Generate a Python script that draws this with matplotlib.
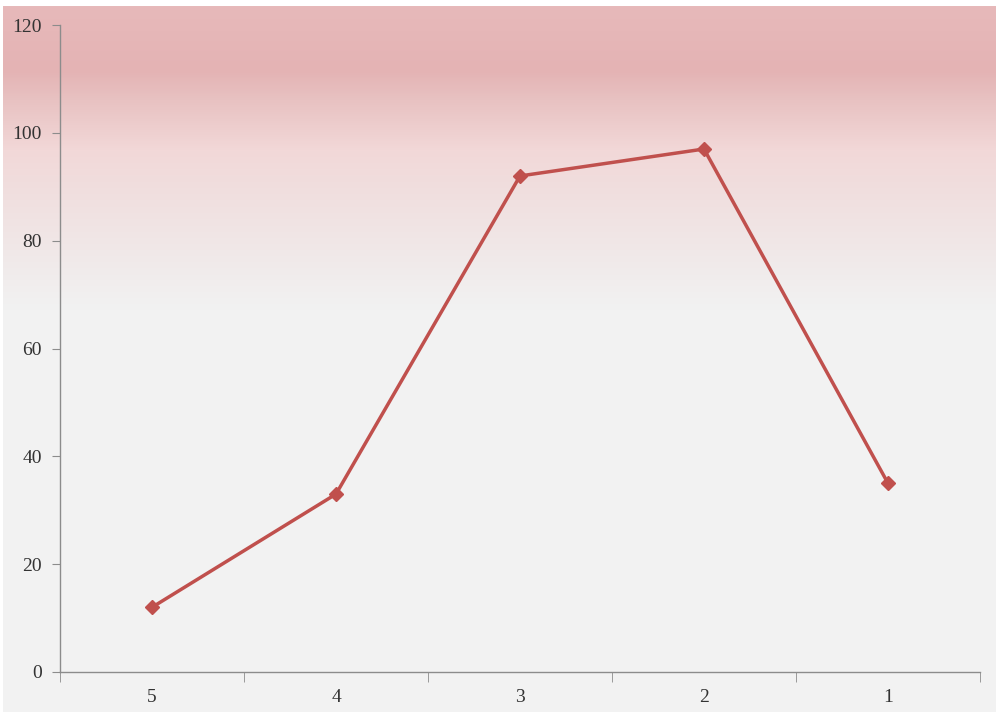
import matplotlib.pyplot as plt
import numpy as np

# data
categories = ["5", "4", "3", "2", "1"]
values = [12, 33, 92, 97, 35]
y_ticks = [0, 20, 40, 60, 80, 100, 120]

W, H = 996, 712
fig = plt.figure(figsize=(W / 100, H / 100), dpi=100)
fig.patch.set_facecolor("white")

# vertical background gradient (pink at top fading to light gray)
stop_px = [6, 30, 70, 100, 150, 200, 250, 310, 712]
stop_rgb = np.array([
    [0xe6, 0xb9, 0xba],
    [0xe6, 0xb7, 0xb8],
    [0xe4, 0xb3, 0xb4],
    [0xe8, 0xc2, 0xc2],
    [0xf2, 0xd8, 0xd8],
    [0xf0, 0xe0, 0xe0],
    [0xf0, 0xe8, 0xe8],
    [0xf2, 0xf2, 0xf2],
    [0xf2, 0xf2, 0xf2],
]) / 255.0
rows = np.arange(6, H)
grad = np.stack([np.interp(rows, stop_px, stop_rgb[:, c]) for c in range(3)], axis=1)
bg = fig.add_axes([3 / W, 0, 1 - 3 / W, (H - 6) / H], zorder=0)
bg.imshow(grad[:, None, :], aspect="auto", extent=(0, 1, 0, 1))
bg.axis("off")

ax = fig.add_axes([60 / W, (H - 672) / H, 920 / W, (672 - 25) / H], zorder=1)
ax.patch.set_alpha(0)

x = np.arange(len(categories))
ax.plot(x, values, color="#c0504d", lw=2.5, marker="D", ms=7.5,
        markeredgecolor="#c0504d", markerfacecolor="#c0504d")

ax.set_xlim(-0.5, len(categories) - 0.5)
ax.set_ylim(0, 120)
ax.set_yticks(y_ticks)
ax.set_xticks(x)
ax.set_xticklabels(categories)
ax.set_xticks(np.arange(-0.5, len(categories)), minor=True)

for s in ["top", "right"]:
    ax.spines[s].set_visible(False)
for s in ["left", "bottom"]:
    ax.spines[s].set_color("#8c8c8c")
    ax.spines[s].set_linewidth(1.0)

font = {"family": "Liberation Serif", "size": 14, "color": "#333333"}
ax.tick_params(axis="y", length=6, color="#8c8c8c", pad=7)
ax.tick_params(axis="x", which="major", length=0, pad=12)
ax.tick_params(axis="x", which="minor", length=7, color="#8c8c8c")
for lab in ax.get_xticklabels() + ax.get_yticklabels():
    lab.set_fontfamily(font["family"])
    lab.set_fontsize(font["size"])
    lab.set_color(font["color"])

fig.savefig("out.png", dpi=100)
